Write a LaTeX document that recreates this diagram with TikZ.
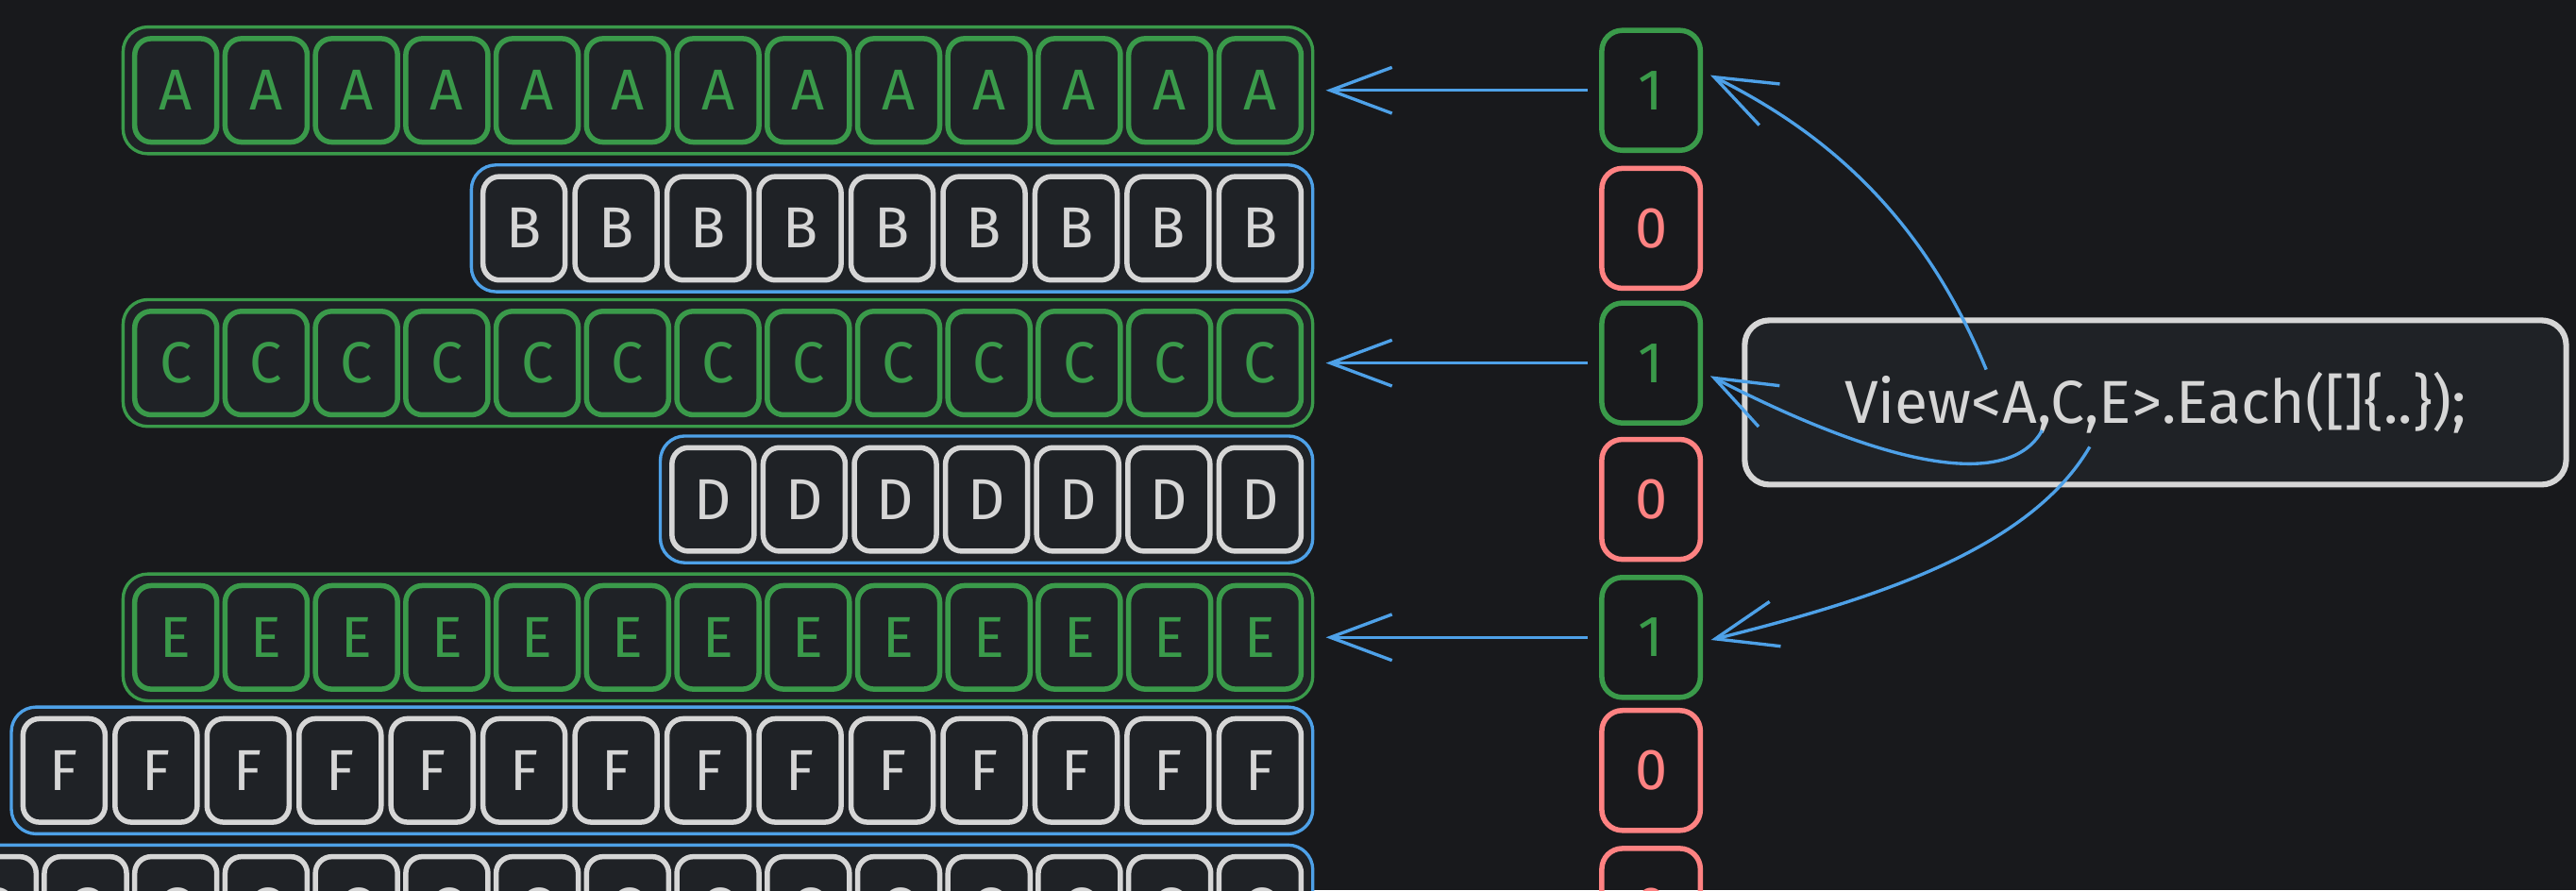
\documentclass[tikz,border=0pt]{standalone}
\usepackage{fontspec}
\setmainfont{Fira Sans}
\usetikzlibrary{positioning,fit,backgrounds,arrows.meta}
\definecolor{PageBg}{RGB}{24,25,28}
\definecolor{CellBg}{RGB}{31,34,38}
\definecolor{OnGreen}{RGB}{58,154,74}
\definecolor{OffBlue}{RGB}{78,161,232}
\definecolor{LightGray}{RGB}{214,214,214}
\definecolor{ZeroRed}{RGB}{255,130,130}

\begin{document}
\begin{tikzpicture}[x=0.2mm,y=-0.2mm,
		cell/.style={rectangle,draw=#1,text=#1,rounded corners=2mm,minimum width=10mm,
			minimum height=12.6mm,fill=CellBg,line width=1.8pt,inner sep=0pt,font=\fontsize{20}{22}\selectfont},
		rowbox/.style={rectangle,draw=#1,rounded corners=3mm,fill=CellBg,line width=1.1pt,inner sep=1.1mm},
		bit/.style={rectangle,draw=#1,text=#1,rounded corners=2.5mm,minimum width=12mm,
			minimum height=14.6mm,line width=1.8pt,font=\fontsize{20}{22}\selectfont},
		codebox/.style={rectangle,draw=LightGray,fill=CellBg,text=LightGray,rounded corners=3mm,
			line width=2pt,minimum width=100mm,minimum height=20mm,font=\fontsize{21}{24}\selectfont},
		arr/.style={draw=OffBlue,line width=1.1pt,-{Straight Barb[length=7.5mm,width=5.6mm]}}]
			\useasboundingbox (0,0) rectangle (1568,542);
			\begin{pgfonlayer}{background}
				\fill[PageBg] (0,0) rectangle (1568,542);
			\end{pgfonlayer}
			% component rows and their bits
			\foreach \ltr/\n/\pitch/\y/\clr/\rowclr/\b/\bclr in {
				A/13/55/55/OnGreen/OnGreen/1/OnGreen,
				B/9/56/139/LightGray/OffBlue/0/ZeroRed,
				C/13/55/221/OnGreen/OnGreen/1/OnGreen,
				D/7/55.5/304/LightGray/OffBlue/0/ZeroRed,
				E/13/55/388/OnGreen/OnGreen/1/OnGreen,
				F/14/56/469/LightGray/OffBlue/0/ZeroRed,
				G/15/55/553/LightGray/OffBlue/0/ZeroRed}{
				\foreach \i in {1,...,\n}
					\node[cell=\clr] (\ltr\i) at ({767-(\n-\i)*\pitch},\y) {\ltr};
				\begin{pgfonlayer}{background}
					\node[rowbox=\rowclr,fit=(\ltr1)(\ltr\n)] (row\ltr) {};
				\end{pgfonlayer}
				\node[bit=\bclr] (bit\ltr) at (1005,\y) {\b};
			}
			\foreach \ltr in {A,C,E}
				\draw[arr,shorten <=1.4mm,shorten >=1.4mm] (bit\ltr) -- (row\ltr);
			\node[codebox] (code) at (1312,245) {View<A,C,E>.Each([]\{..\});};
			\coordinate (fromA) at (1209,225);
			\coordinate (fromC) at (1243,262);
			\coordinate (fromE) at (1272,272);
			\draw[arr,shorten >=1mm] (fromA) .. controls (1170,130) and (1110,80) .. (bitA.20);
			\draw[arr,shorten >=1mm] (fromC) .. controls (1225,295) and (1160,290) .. (bitC.-10);
			\draw[arr,shorten >=1mm] (fromE) .. controls (1235,335) and (1140,365) .. (bitE.-5);
		\end{tikzpicture}
\end{document}
